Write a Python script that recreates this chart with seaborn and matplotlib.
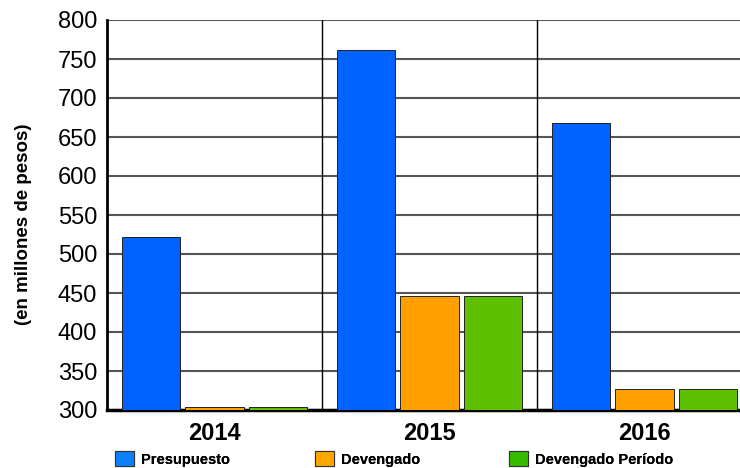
import pandas as pd
import matplotlib
matplotlib.use('Agg')
import matplotlib.pyplot as plt
import seaborn as sns
from matplotlib.patches import Patch

# Data
years = ['2014', '2015', '2016']
series = ['Presupuesto', 'Devengado', 'Devengado Período']
presupuesto = [522, 761, 668]
devengado = [303.5, 446, 327]
devengado_periodo = [303.5, 446, 327]

colors = ['#0062FF', '#FFA000', '#5EC000']
legend_colors = ['#0A80FF', '#FFA500', '#35BB00']

df = pd.DataFrame({
    'Año': years * 3,
    'Serie': [s for s in series for _ in years],
    'Valor': presupuesto + devengado + devengado_periodo,
})

sns.set_style('white')
plt.rcParams['font.family'] = ['Liberation Sans', 'DejaVu Sans']
plt.rcParams['text.color'] = 'black'
plt.rcParams['xtick.color'] = 'black'
plt.rcParams['ytick.color'] = 'black'

fig = plt.figure(figsize=(7.4, 4.68), dpi=100)
ax = fig.add_axes([107 / 740, 1 - 410 / 468, 645 / 740, 390 / 468])

sns.barplot(data=df, x='Año', y='Valor', hue='Serie', hue_order=series,
            palette=colors, width=0.88, gap=0.08, edgecolor='#222222',
            linewidth=0.7, saturation=1, ax=ax, legend=False, zorder=3)

ax.set_ylim(300, 800)
ax.set_xlim(-0.5, 2.5)
ax.set_yticks(range(300, 801, 50))
ax.set_xticks(range(len(years)))
ax.set_xticklabels(years, fontsize=17, fontweight='bold', color='black')
ax.yaxis.grid(True, color='#555555', linewidth=1.5, zorder=0)
ax.set_axisbelow(True)
for xv in [0.5, 1.5]:
    ax.axvline(xv, color='black', linewidth=1, zorder=1)

for side in ['top', 'right']:
    ax.spines[side].set_visible(False)
ax.spines['left'].set_linewidth(2)
ax.spines['bottom'].set_linewidth(2.5)
ax.spines['left'].set_color('black')
ax.spines['bottom'].set_color('black')

ax.tick_params(axis='y', labelsize=17, length=0, pad=7)
ax.tick_params(axis='x', length=0, pad=9)
ax.set_xlabel('')
ax.set_ylabel('(en millones de pesos)', fontsize=13.5, fontweight='bold', color='black')
ax.yaxis.set_label_coords(-0.117, 0.477)

# one legend entry per position, as in the reference
legend_x = [115, 315, 509]
for name, c, xpos in zip(series, legend_colors, legend_x):
    leg = fig.legend([Patch(facecolor=c, edgecolor='#333333', linewidth=0.8)], [name],
                     loc='center left', bbox_to_anchor=(xpos / 740, 1 - 459 / 468),
                     frameon=False, prop={'weight': 'bold', 'size': 10.5},
                     handlelength=1.3, handleheight=1.2, handletextpad=0.5,
                     borderaxespad=0, borderpad=0)
    fig.add_artist(leg)

fig.savefig('out.png', dpi=100)
plt.close(fig)
